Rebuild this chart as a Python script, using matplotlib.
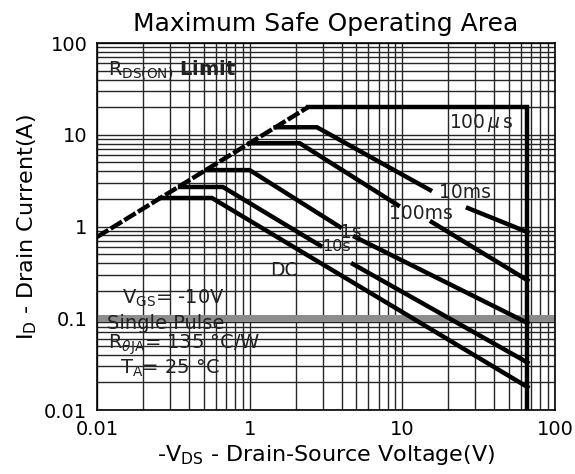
import matplotlib
matplotlib.use("Agg")
import matplotlib.pyplot as plt
import numpy as np

nan = np.nan

# Safe operating area boundaries, -V_DS [V] vs I_D [A]
rds_v = [0.1, 2.41]
rds_i = [0.77, 20.0]

us100_v = [2.41, 66.0, 66.0]
us100_i = [20.0, 20.0, 0.01]

ms10_v = [1.48, 2.76, 15.2, nan, 26.9, 66.0]
ms10_i = [12.1, 12.1, 2.5, nan, 1.59, 0.87]

ms100_v = [1.0, 2.13, 9.35, nan, 15.6, 66.0]
ms100_i = [8.1, 8.1, 1.71, nan, 1.12, 0.26]

s1_v = [0.52, 1.0, 3.9, nan, 4.9, 66.0]
s1_i = [4.13, 4.13, 0.99, nan, 0.77, 0.089]

s10_v = [0.35, 0.668, 2.9, nan, 4.75, 66.0]
s10_i = [2.7, 2.7, 0.62, nan, 0.39, 0.033]

dc_v = [0.26, 0.566, 66.0]
dc_i = [2.05, 2.05, 0.0178]

xticks = [0.1, 1, 10, 100]
xticklabels = ["0.01", "1", "10", "100"]
yticks = [0.01, 0.1, 1, 10, 100]
yticklabels = ["0.01", "0.1", "1", "10", "100"]

fig = plt.figure(figsize=(5.75, 4.74), dpi=100)
ax = fig.add_axes([0.1687, 0.135, 0.7965, 0.774])
ax.set_xscale("log")
ax.set_yscale("log")
ax.set_xlim(0.1, 100)
ax.set_ylim(0.01, 100)

ax.grid(True, which="both", color="0.15", lw=1.0)
ax.axhline(0.1, color="0.55", lw=5, zorder=1)
ax.set_axisbelow(True)

lw = 3.2
ax.plot(rds_v, rds_i, color="black", lw=lw, ls=(0, (3, 0.6)))
for v, i in [(us100_v, us100_i), (ms10_v, ms10_i), (ms100_v, ms100_i),
             (s1_v, s1_i), (s10_v, s10_i), (dc_v, dc_i)]:
    ax.plot(v, i, color="black", lw=lw, solid_joinstyle="miter")

ax.set_xticks(xticks)
ax.set_xticklabels(xticklabels)
ax.set_yticks(yticks)
ax.set_yticklabels(yticklabels)
ax.xaxis.set_minor_formatter(matplotlib.ticker.NullFormatter())
ax.yaxis.set_minor_formatter(matplotlib.ticker.NullFormatter())
ax.tick_params(which="both", length=0, labelsize=14, pad=7)
for s in ax.spines.values():
    s.set_linewidth(1.2)

ax.set_title("Maximum Safe Operating Area", fontsize=18, pad=9)
ax.set_xlabel(r"-V$_\mathrm{DS}$ - Drain-Source Voltage(V)", fontsize=16, labelpad=3)
ax.set_ylabel(r"I$_\mathrm{D}$ - Drain Current(A)", fontsize=16, labelpad=4)

tkw = dict(fontsize=13.5, color="#222222", ha="center", va="center")
ax.text(33, 13.4, r"100$\,\mu\,$s", **tkw)
ax.text(25.7, 2.38, "10ms", **tkw)
ax.text(13.2, 1.40, "100ms", **tkw)
ax.text(4.6, 0.87, "1s", **tkw)
ax.text(3.7, 0.60, "10s", fontsize=11.5, color="#222222", ha="center", va="center")
ax.text(1.68, 0.336, "DC", **tkw)

lkw = dict(fontsize=14, color="#222222", ha="left", va="center", transform=ax.transAxes)
ax.text(0.024, 0.926, r"R$_\mathrm{DS(ON)}$ $\mathbf{Limit}$", **lkw)
ax.text(0.055, 0.305, r"V$_\mathrm{GS}$= -10V", **lkw)
ax.text(0.022, 0.237, "Single Pulse", **lkw)
ax.text(0.024, 0.177, r"R$_{\theta\mathrm{JA}}$= 135 °C/W", **lkw)
ax.text(0.05, 0.114, r"T$_\mathrm{A}$= 25 °C", **lkw)

fig.savefig("out.png", dpi=100)
